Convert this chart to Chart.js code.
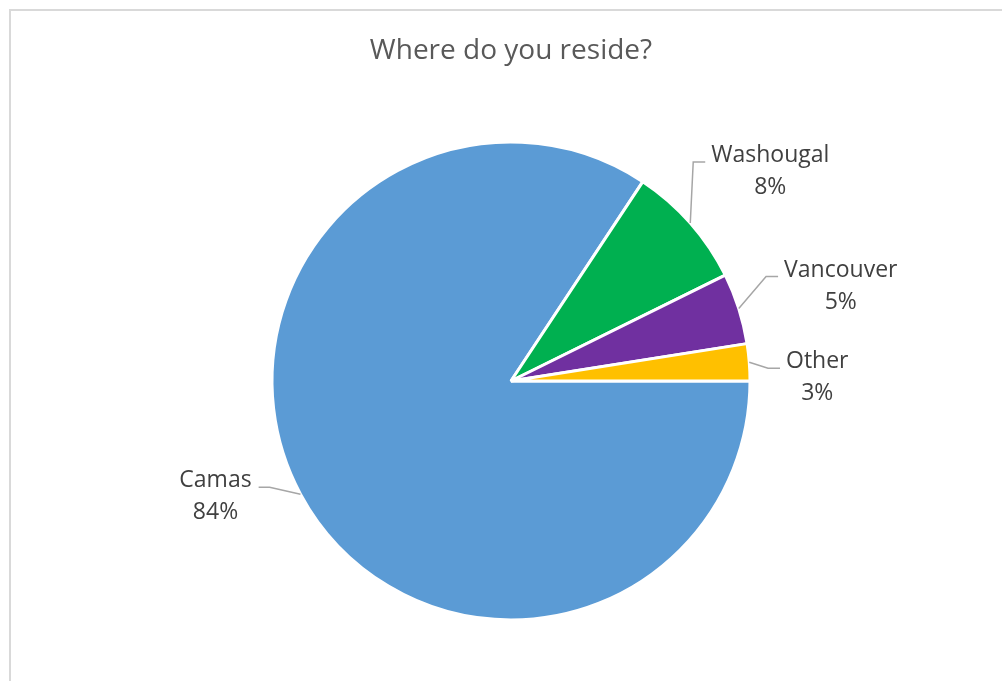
<!DOCTYPE html>
<html><head><meta charset="utf-8">
<script src="https://cdn.jsdelivr.net/npm/chart.js@4.4.1/dist/chart.umd.min.js"></script>
<style>html,body{margin:0;padding:0;background:#fff;overflow:hidden}#wrap{position:relative;width:1002px;height:681px}</style>
</head><body><div id="wrap"><canvas id="c" width="1002" height="681"></canvas></div>
<script>
const categories = ['Camas', 'Washougal', 'Vancouver', 'Other'];
const shares = [84.3, 8.4, 4.8, 2.5];
const sliceColors = ['#5B9BD5', '#00B050', '#7030A0', '#FFC000'];
const titleText = 'Where do you reside?';
// label placement (first-line baseline centre) relative to the slice's outer edge midpoint
const labelOffsets = [[-85, -7], [80, -61], [102, -32], [68, 6]];

const FONT = '"Open Sans", "Liberation Sans", sans-serif';

const frame = {
  id: 'frame',
  beforeDraw(chart) {
    const ctx = chart.ctx;
    ctx.save();
    ctx.fillStyle = '#ffffff';
    ctx.fillRect(0, 0, chart.width, chart.height);
    ctx.strokeStyle = '#D9D9D9';
    ctx.lineWidth = 2;
    ctx.strokeRect(10, 10, chart.width + 40, chart.height + 40);
    ctx.restore();
  }
};

const leaderLabels = {
  id: 'leaderLabels',
  afterDatasetsDraw(chart) {
    const ctx = chart.ctx;
    const meta = chart.getDatasetMeta(0);
    const data = chart.data.datasets[0].data;
    const total = data.reduce((a, b) => a + b, 0);
    ctx.save();
    ctx.font = '23px ' + FONT;
    meta.data.forEach((arc, i) => {
      const p = arc.getProps(['x', 'y', 'startAngle', 'endAngle', 'outerRadius'], true);
      const mid = (p.startAngle + p.endAngle) / 2;
      const ex = p.x + Math.cos(mid) * p.outerRadius;
      const ey = p.y + Math.sin(mid) * p.outerRadius;
      const [dx, dy] = labelOffsets[i];
      const cx = ex + dx, by = ey + dy;
      const name = chart.data.labels[i];
      const pct = Math.round(data[i] / total * 100) + '%';
      const w = Math.max(ctx.measureText(name).width, ctx.measureText(pct).width);
      const leftSide = dx < 0;
      const nearX = leftSide ? cx + w / 2 + 7 : cx - w / 2 - 6;
      const elbowX = leftSide ? nearX + 11 : nearX - 12;
      ctx.strokeStyle = '#A6A6A6';
      ctx.lineWidth = 1.5;
      ctx.beginPath();
      ctx.moveTo(ex, ey);
      ctx.lineTo(elbowX, by);
      ctx.lineTo(nearX, by);
      ctx.stroke();
      ctx.fillStyle = '#404040';
      ctx.textAlign = 'center';
      ctx.textBaseline = 'alphabetic';
      ctx.fillText(name, cx, by);
      ctx.fillText(pct, cx, by + 32);
    });
    ctx.restore();
  }
};

new Chart(document.getElementById('c'), {
  type: 'pie',
  data: {
    labels: categories,
    datasets: [{
      data: shares,
      backgroundColor: sliceColors,
      borderColor: '#ffffff',
      borderWidth: 3
    }]
  },
  options: {
    responsive: false,
    animation: false,
    events: [],
    rotation: 90,
    layout: { padding: { left: 270.5, right: 250.5, top: 0, bottom: 59.5 } },
    plugins: {
      legend: { display: false },
      tooltip: { enabled: false },
      title: {
        display: true,
        text: titleText,
        color: '#595959',
        font: { family: FONT, size: 28, weight: 'normal', lineHeight: 1.2 },
        padding: { top: 34, bottom: 72.9 }
      }
    }
  },
  plugins: [frame, leaderLabels]
});
</script>
</body></html>
